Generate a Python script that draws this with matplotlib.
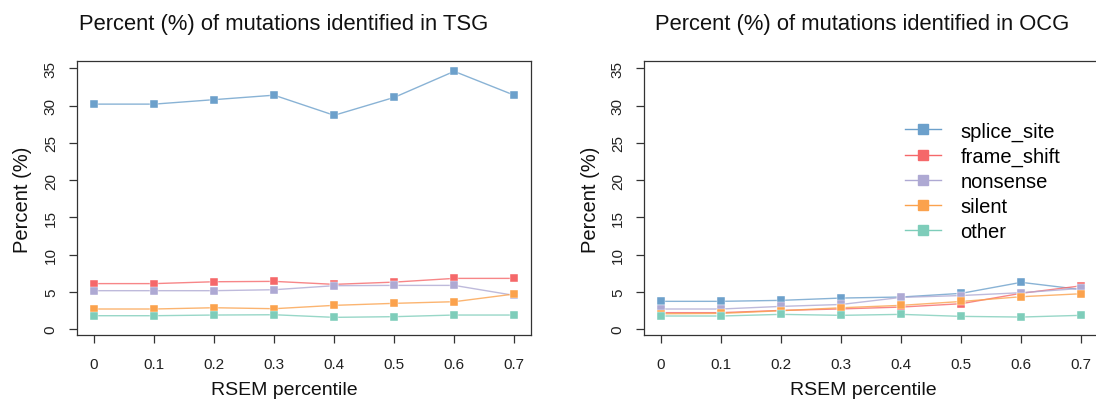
import matplotlib
matplotlib.use("Agg")
import matplotlib.pyplot as plt
from matplotlib.lines import Line2D

plt.rcParams['font.family'] = ['Liberation Sans', 'DejaVu Sans']

# RSEM expression percentile cut-offs
percentiles = [0, 0.1, 0.2, 0.3, 0.4, 0.5, 0.6, 0.7]
categories = ["splice_site", "frame_shift", "nonsense", "silent", "other"]
colors = ["#6CA0CB", "#F5686A", "#AEA9D3", "#FBA24D", "#7ECDBA"]

# Tumour suppressor genes (TSG), percent of mutations per class
tsg_splice_site = [30.2, 30.2, 30.8, 31.4, 28.7, 31.1, 34.6, 31.4]
tsg_frame_shift = [6.1, 6.1, 6.35, 6.4, 6.0, 6.3, 6.8, 6.8]
tsg_nonsense    = [5.15, 5.15, 5.15, 5.28, 5.82, 5.86, 5.86, 4.52]
tsg_silent      = [2.69, 2.69, 2.86, 2.73, 3.18, 3.45, 3.67, 4.7]
tsg_other       = [1.79, 1.79, 1.88, 1.92, 1.57, 1.66, 1.88, 1.88]

# Oncogenes (OCG), percent of mutations per class
ocg_splice_site = [3.72, 3.72, 3.85, 4.16, 4.3, 4.79, 6.27, 5.3]
ocg_frame_shift = [2.2, 2.2, 2.5, 2.7, 2.95, 3.4, 4.8, 5.8]
ocg_nonsense    = [2.69, 2.69, 3.04, 3.3, 4.25, 4.5, 4.88, 5.46]
ocg_silent      = [2.05, 2.1, 2.46, 2.86, 3.18, 3.7, 4.34, 4.74]
ocg_other       = [1.75, 1.75, 1.97, 1.84, 1.97, 1.7, 1.61, 1.84]

yticks = [0, 5, 10, 15, 20, 25, 30, 35]
xtick_labels = ["0", "0.1", "0.2", "0.3", "0.4", "0.5", "0.6", "0.7"]

W, H = 1096, 402
fig = plt.figure(figsize=(W / 100, H / 100), dpi=100)


def px_axes(x0, y0, x1, y1):
    return fig.add_axes([x0 / W, 1 - y1 / H, (x1 - x0) / W, (y1 - y0) / H])


def panel(ax, series, title, title_x, xlabel_x, ylabel_x):
    for vals, c in zip(series, colors):
        ax.plot(percentiles, vals, color=c, lw=1.0, alpha=0.8, zorder=2)
        ax.plot(percentiles, vals, ls="none", marker="s", ms=5.6,
                mfc=c, mec="white", mew=0.3, zorder=3)
    ax.set_xlim(-0.028, 0.728)
    ax.set_ylim(-0.76, 36.03)
    ax.set_xticks(percentiles)
    ax.set_xticklabels(xtick_labels)
    ax.set_yticks(yticks)
    ax.set_yticklabels([str(v) for v in yticks], rotation=90, va="center")
    ax.tick_params(direction="out", length=6, width=0.9, color="#333333",
                   labelsize=11, labelcolor="#222222")
    ax.tick_params(axis="x", pad=10)
    ax.tick_params(axis="y", pad=8)
    for s in ax.spines.values():
        s.set_color("#333333")
        s.set_linewidth(0.9)
    fig.text(title_x / W, 1 - 30 / H, title, ha="center", va="baseline",
             fontsize=15.8, color="#111111")
    fig.text(xlabel_x / W, 1 - 395 / H, "RSEM percentile", ha="center",
             va="baseline", fontsize=14, color="#111111")
    fig.text(ylabel_x / W, 1 - 200 / H, "Percent (%)", ha="center",
             va="center", rotation=90, fontsize=14.5, color="#111111")


ax1 = px_axes(77.3, 61.7, 531, 335.7)
panel(ax1, [tsg_splice_site, tsg_frame_shift, tsg_nonsense, tsg_silent, tsg_other],
      "Percent (%) of mutations identified in TSG", 283.5, 284, 23)

ax2 = px_axes(644.3, 61.7, 1098, 335.7)
panel(ax2, [ocg_splice_site, ocg_frame_shift, ocg_nonsense, ocg_silent, ocg_other],
      "Percent (%) of mutations identified in OCG", 862, 863.5, 590)

handles = [Line2D([], [], color=c, lw=1.0, marker="s", ms=7, mfc=c, mec=c)
           for c in colors]
fig.legend(handles, categories, loc="upper left",
           bbox_to_anchor=(905 / W, 1 - 122.5 / H), frameon=False,
           fontsize=14.5, handlelength=1.8, handletextpad=0.95,
           labelspacing=0.3, borderpad=0, borderaxespad=0)

fig.savefig("out.png", dpi=100)
